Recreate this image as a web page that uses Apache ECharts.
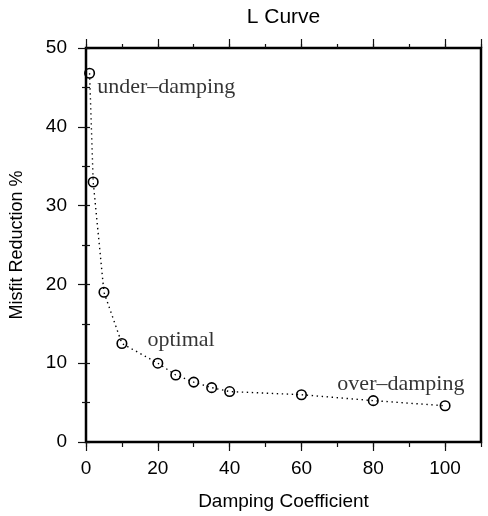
<!DOCTYPE html>
<html>
<head>
<meta charset="utf-8">
<style>
  html, body { margin: 0; padding: 0; background: #fff; }
  #chart { width: 488px; height: 516px; }
</style>
<script src="https://cdn.jsdelivr.net/npm/echarts@6/dist/echarts.min.js"></script>
</head>
<body>
<div id="chart"></div>
<script>
// Damping coefficient vs. misfit reduction (L-curve)
const damping = [1, 2, 5, 10, 20, 25, 30, 35, 40, 60, 80, 100];
const misfit = [46.8, 33.0, 19.0, 12.5, 10.0, 8.5, 7.6, 6.9, 6.4, 6.0, 5.25, 4.6];

// Annotation texts and their anchor points (data units, lower-left of the text box)
const noteText = ['under\u2013damping', 'optimal', 'over\u2013damping'];
const noteX = [3.1, 17.1, 70.0];
const noteY = [43.6, 11.55, 5.95];

const SANS = '"Liberation Sans", Arial, Helvetica, sans-serif';
const SERIF = '"Liberation Serif", "Times New Roman", serif';

const chart = echarts.init(document.getElementById('chart'), null, { renderer: 'canvas' });

const tickStyle = { color: '#111', width: 1.2 };

const xBase = { type: 'value', min: 0, max: 110, gridIndex: 0, splitLine: { show: false }, axisLine: { show: false } };

chart.setOption({
  animation: false,
  backgroundColor: '#fff',
  grid: {
    left: 86, right: 7, top: 48, bottom: 73,
    show: true, borderColor: '#000', borderWidth: 2.5, backgroundColor: 'transparent'
  },
  xAxis: [
    Object.assign({}, xBase, {
      position: 'bottom', interval: 20,
      name: 'Damping Coefficient', nameLocation: 'middle', nameGap: 50,
      nameTextStyle: { fontFamily: SANS, fontSize: 19, color: '#000' },
      axisTick: { show: true, inside: false, length: 9, lineStyle: tickStyle },
      axisLabel: { show: true, margin: 17, fontFamily: SANS, fontSize: 19, color: '#000', showMaxLabel: false }
    }),
    Object.assign({}, xBase, {
      position: 'bottom', interval: 10,
      axisTick: { show: true, inside: false, length: 5, lineStyle: tickStyle },
      axisLabel: { show: false }
    }),
    Object.assign({}, xBase, {
      position: 'top', interval: 20,
      name: 'L Curve', nameLocation: 'middle', nameGap: 20,
      nameTextStyle: { fontFamily: SANS, fontSize: 21, color: '#000' },
      axisTick: { show: true, inside: false, length: 9, lineStyle: tickStyle },
      axisLabel: { show: false }
    }),
    Object.assign({}, xBase, {
      position: 'top', interval: 10,
      axisTick: { show: true, inside: false, length: 4, lineStyle: tickStyle },
      axisLabel: { show: false }
    })
  ],
  yAxis: [
    {
      type: 'value', min: 0, max: 50, interval: 10, position: 'left',
      name: 'Misfit Reduction %', nameLocation: 'middle', nameGap: 60, nameRotate: 90,
      nameTextStyle: { fontFamily: SANS, fontSize: 18, color: '#000' },
      splitLine: { show: false }, axisLine: { show: false },
      axisTick: { show: true, inside: false, length: 8, lineStyle: tickStyle },
      minorTick: { show: true, splitNumber: 2, length: 4, lineStyle: tickStyle },
      axisLabel: { show: true, margin: 19, fontFamily: SANS, fontSize: 19, color: '#000' }
    },
    {
      type: 'value', min: 0, max: 50, interval: 5, position: 'right',
      splitLine: { show: false }, axisLine: { show: false },
      axisTick: { show: true, inside: false, length: 4, lineStyle: tickStyle },
      axisLabel: { show: false }
    }
  ],
  series: [
    {
      type: 'line',
      xAxisIndex: 0, yAxisIndex: 0,
      data: damping.map((d, i) => [d, misfit[i]]),
      symbol: 'circle', symbolSize: 9.5,
      itemStyle: { color: 'rgba(0,0,0,0)', borderColor: '#000', borderWidth: 1.6 },
      lineStyle: { color: '#000', width: 1.4, type: [1.4, 3.6] },
      z: 3
    },
    {
      type: 'scatter',
      xAxisIndex: 0, yAxisIndex: 0,
      data: noteText.map((t, i) => [noteX[i], noteY[i], t]),
      symbolSize: 0,
      silent: true,
      label: {
        show: true, position: [0, 0], align: 'left', verticalAlign: 'bottom',
        formatter: p => p.value[2],
        fontFamily: SERIF, fontSize: 22, color: '#000'
      },
      z: 4
    }
  ]
});
</script>
</body>
</html>
